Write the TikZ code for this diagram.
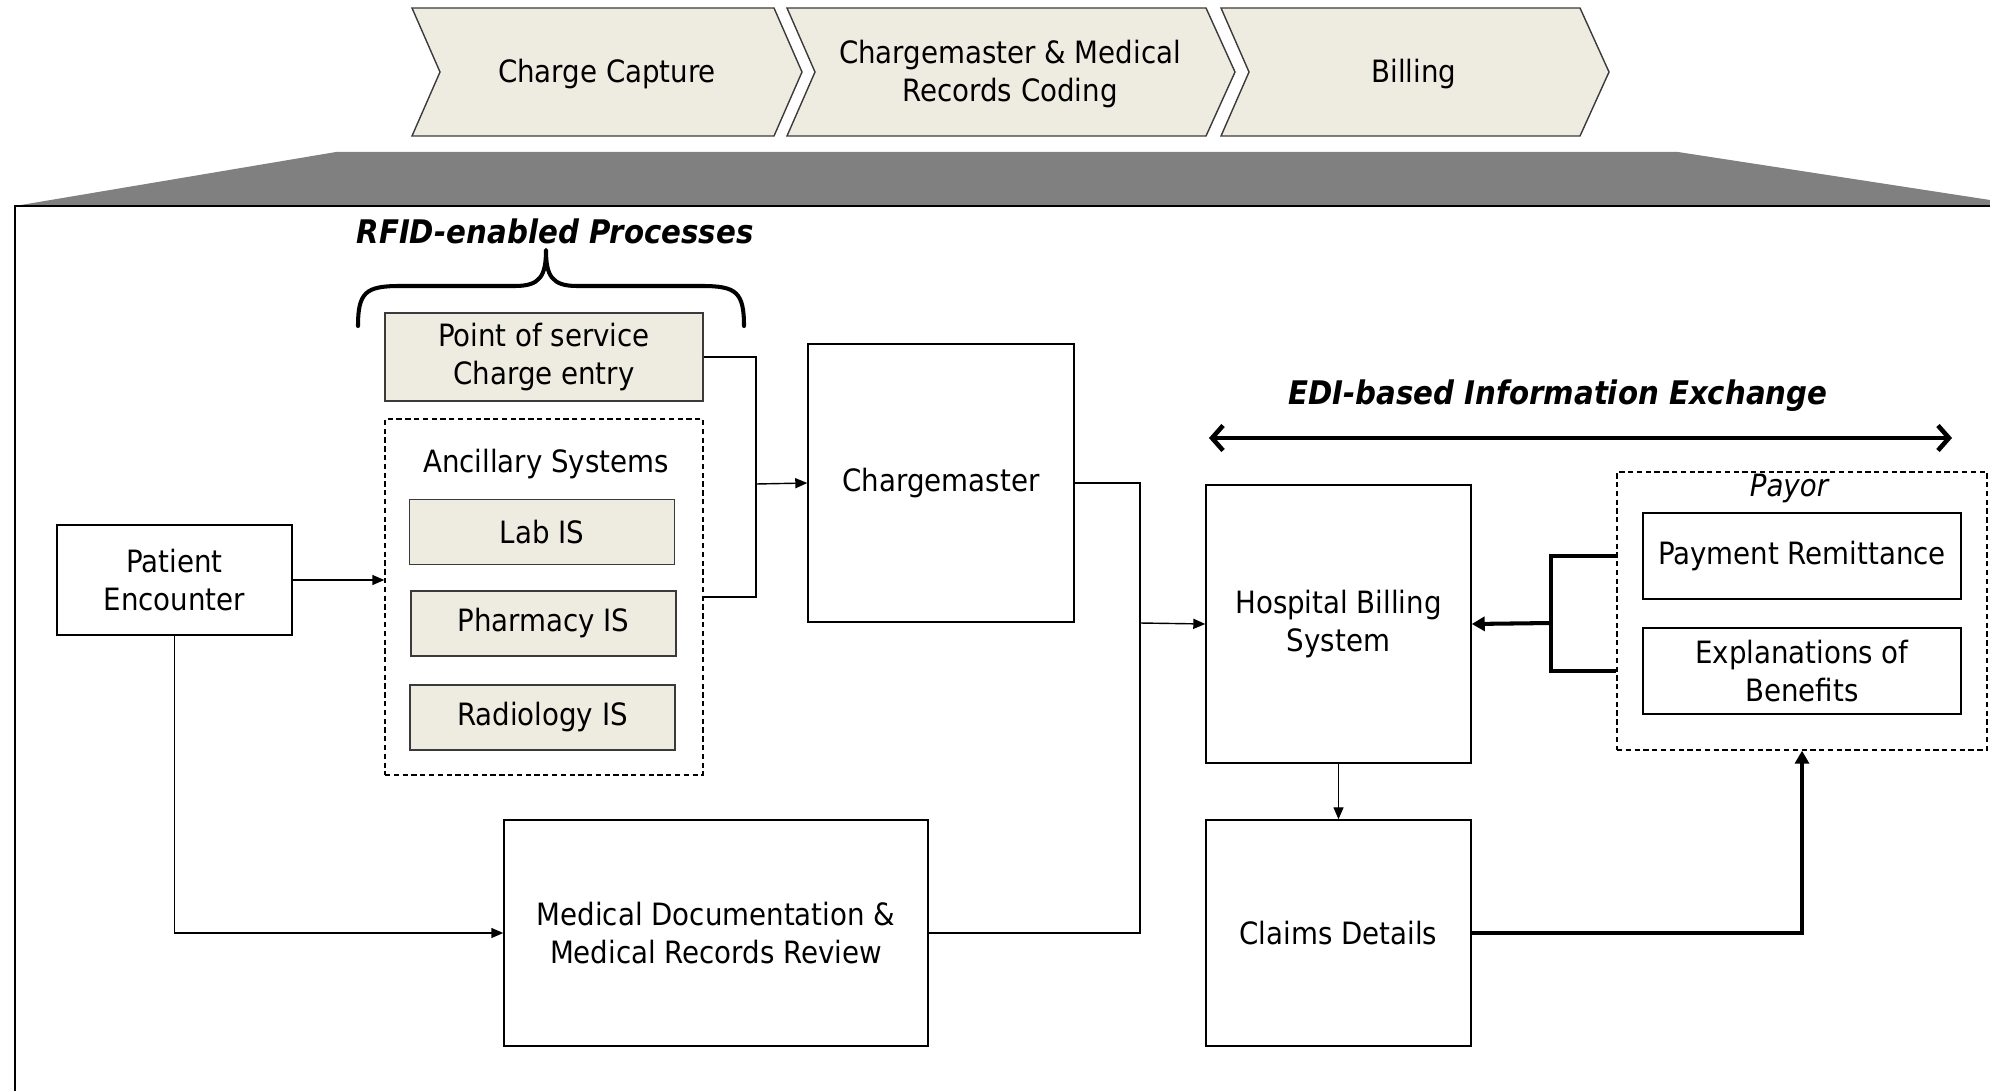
\documentclass[tikz,border=0pt]{standalone}
\usepackage{fontspec}
\setmainfont{DejaVu Sans Condensed}
\usetikzlibrary{arrows.meta}
\definecolor{beige}{HTML}{EEECE1}
\definecolor{edgegray}{HTML}{3A3A3A}
\definecolor{bandgray}{HTML}{808080}
\begin{document}
\begin{tikzpicture}[x=0.02cm,y=-0.02cm,
  every node/.style={font=\fontsize{17.5}{22}\selectfont, align=center, text=black, inner sep=0pt},
  box/.style={draw=black, line width=0.85pt, rectangle},
  fbox/.style={box, fill=beige, draw=edgegray},
  dbox/.style={draw=black, line width=0.8pt, dashed, dash pattern=on 3pt off 2pt, rectangle},
  conn/.style={draw=black, line width=0.8pt},
  arr/.style={conn, -{Triangle[length=0.24cm,width=0.2cm]}},
  thickconn/.style={draw=black, line width=2.3pt},
  thickarr/.style={thickconn, -{Triangle[length=0.26cm,width=0.28cm]}},
  chev/.style={fill=beige, draw=edgegray, line width=0.8pt, line join=miter},
  title/.style={font=\fontsize{18.5}{22}\selectfont\bfseries\itshape}
]
\useasboundingbox (0,0) rectangle (1990,1091);

% chevrons
\draw[chev] (412,8) -- (774,8) -- (802,72) -- (774,136) -- (412,136) -- (440,72) -- cycle;
\draw[chev] (787,8) -- (1206,8) -- (1235,72) -- (1206,136) -- (787,136) -- (815,72) -- cycle;
\draw[chev] (1221,8) -- (1580,8) -- (1609,72) -- (1580,136) -- (1221,136) -- (1249,72) -- cycle;
\node (c1) at (607,74) {Charge Capture};
\node (c2) at (1010,74) {Chargemaster \& Medical\\Records Coding};
\node (c3) at (1414,74) {Billing};

% grey band and frame
\fill[bandgray] (336,152) -- (1678,152) -- (1990,200) -- (1990,206) -- (15,206) -- cycle;
\draw[black, line width=0.9pt] (1990,206) -- (15,206) -- (15,1091);

% RFID title and brace
\node[title] (rfid) at (555,231) {RFID-enabled Processes};
\draw[line width=2.3pt, line cap=round, line join=round]
  (358,326) .. controls (358,292) and (366,286) .. (400,286) -- (515,286)
  .. controls (540,286) and (546,276) .. (546,250)
  .. controls (546,276) and (552,286) .. (577,286) -- (702,286)
  .. controls (736,286) and (744,292) .. (744,326);

% left side nodes
\node[fbox, minimum width=6.36cm, minimum height=1.76cm] (pos) at (544,357) {Point of service\\Charge entry};
\node[dbox, minimum width=6.36cm, minimum height=7.12cm] (anc) at (544,597) {};
\node (anct) at (546,464) {Ancillary Systems};
\node[fbox, minimum width=5.30cm, minimum height=1.30cm] (lab) at (542,532) {Lab IS};
\node[fbox, minimum width=5.30cm, minimum height=1.30cm] (pha) at (543.5,623.5) {Pharmacy IS};
\node[fbox, minimum width=5.30cm, minimum height=1.30cm] (rad) at (542.5,717.5) {Radiology IS};

\node[box, minimum width=5.32cm, minimum height=5.56cm] (cm) at (941,483) {Chargemaster};
\node[box, minimum width=4.70cm, minimum height=2.20cm] (pe) at (174.5,580) {Patient\\Encounter};
\node[box, minimum width=8.48cm, minimum height=4.52cm] (md) at (716,933) {Medical Documentation \&\\Medical Records Review};

% right side nodes
\node[box, minimum width=5.30cm, minimum height=5.56cm] (hbs) at (1338.5,624) {Hospital Billing\\System};
\node[box, minimum width=5.30cm, minimum height=4.52cm] (cl) at (1338.5,933) {Claims Details};
\node[dbox, minimum width=7.40cm, minimum height=5.56cm] (payor) at (1802,611) {};
\node[font=\fontsize{17.5}{22}\selectfont\itshape] (payt) at (1789,488) {Payor};
\node[box, minimum width=6.36cm, minimum height=1.72cm] (pr) at (1802,556) {Payment Remittance};
\node[box, minimum width=6.36cm, minimum height=1.72cm] (eob) at (1802,671) {Explanations of\\Benefits};

% EDI
\node[title] (edi) at (1558,396) {EDI-based Information Exchange};
\coordinate (e1) at (1209,438);
\coordinate (e2) at (1952,438);
\draw[line width=2.6pt, {Straight Barb[length=0.22cm,width=0.5cm]}-{Straight Barb[length=0.22cm,width=0.5cm]}] (e1) -- (e2);

% connectors
\coordinate (j1) at (756,484);
\draw[conn] (pos.east) -| (j1);
\draw[conn] (anc.east) -| (j1);
\draw[arr] (j1) -- (cm.west);
\draw[arr] (pe.east) -- (pe.east -| anc.west);
\draw[arr] (pe.south) |- (md.west);
\coordinate (j2) at (1140,623);
\draw[conn] (md.east) -| (j2);
\draw[conn] (cm.east) -| (j2);
\draw[arr] (j2) -- (hbs.west);
\draw[arr] (hbs.south) -- (cl.north);
\draw[thickarr] (cl.east) -| (payor.south);
\coordinate (j3) at (1551,623);
\draw[thickconn] (pr.center -| payor.west) -| (j3) |- (eob.center -| payor.west);
\draw[thickarr] (j3) -- (hbs.east);
\end{tikzpicture}
\end{document}
